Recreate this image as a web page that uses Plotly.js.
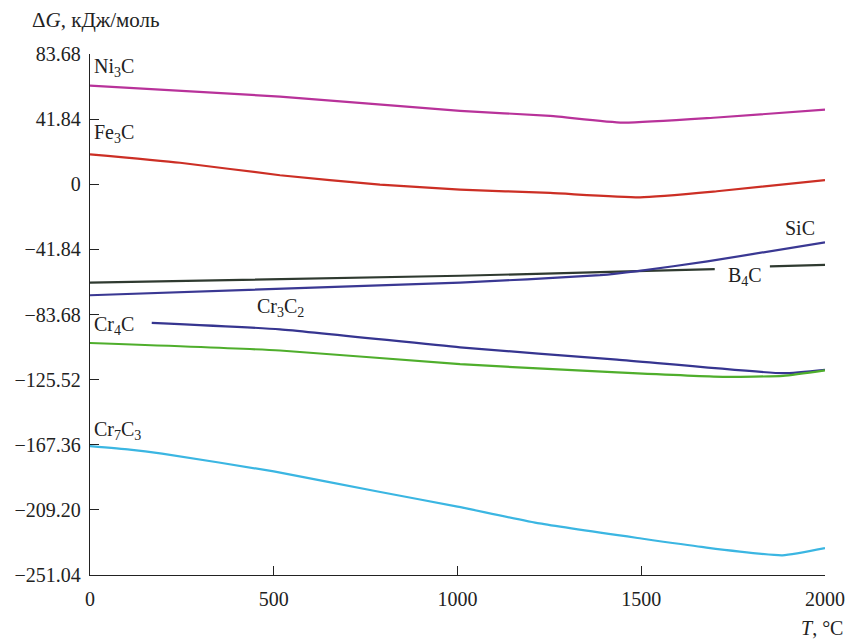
<!DOCTYPE html>
<html>
<head>
<meta charset="utf-8">
<script src="https://cdn.plot.ly/plotly-3.0.1.min.js"></script>
<style>html,body{margin:0;padding:0;background:#fff;}</style>
</head>
<body>
<div id="chart" style="width:848px;height:639px;"></div>
<script>
// Data (T in °C, ΔG in kJ/mol)
const ni3cT = [0, 517, 1007, 1252, 1450, 1706, 2000];
const ni3cG = [63.4, 56.3, 47.2, 43.9, 39.6, 42.9, 47.9];

const fe3cT = [0, 245, 517, 789, 1007, 1252, 1497, 1706, 2000];
const fe3cG = [19.2, 13.8, 5.8, -0.2, -3.4, -5.6, -8.4, -4.5, 2.6];

const sicT = [0, 1007, 1388, 1490, 1680, 2000];
const sicG = [-71.3, -63.2, -58.4, -55.8, -49.6, -37.3];

const b4cT = [0, 1007, 1488, 1700, 1760, 1850, 2000];
const b4cG = [-63.2, -58.8, -55.8, -54.5, null, -52.8, -51.8];

const cr3c2T = [168, 517, 1007, 1434, 1886, 2000];
const cr3c2G = [-89.0, -93.2, -104.8, -112.7, -121.4, -119.2];

const cr4cT = [0, 517, 1007, 1434, 1722, 1886, 2000];
const cr4cG = [-102.0, -106.8, -115.6, -120.9, -123.7, -123.1, -119.6];

const cr7c3T = [0, 108, 196, 500, 783, 1000, 1223, 1500, 1664, 1884, 2000];
const cr7c3G = [-168.3, -170.5, -173.1, -184.5, -197.4, -207.1, -217.9, -227.6, -233.0, -238.4, -233.8];

const yTickVals = [83.68, 41.84, 0, -41.84, -83.68, -125.52, -167.36, -209.20, -251.04];
const yTickText = ["83.68", "41.84", "0", "\u221241.84", "\u221283.68", "\u2212125.52", "\u2212167.36", "\u2212209.20", "\u2212251.04"];
const xTickVals = [0, 500, 1000, 1500, 2000];

const labels = [
  {text: "Ni<sub>3</sub>C", x: 5, y: 75.0, anchor: "left"},
  {text: "Fe<sub>3</sub>C", x: 5, y: 32.3, anchor: "left"},
  {text: "SiC", x: 1932, y: -27.8, anchor: "center"},
  {text: "B<sub>4</sub>C", x: 1782, y: -59.5, anchor: "center"},
  {text: "Cr<sub>3</sub>C<sub>2</sub>", x: 517, y: -79.0, anchor: "center"},
  {text: "Cr<sub>4</sub>C", x: 5, y: -90.5, anchor: "left"},
  {text: "Cr<sub>7</sub>C<sub>3</sub>", x: 5, y: -158.4, anchor: "left"}
];

const FONT = "Liberation Serif, Times New Roman, serif";

function line(x, y, color, name) {
  return {x: x, y: y, type: "scatter", mode: "lines", name: name,
          line: {color: color, width: 2.2, shape: "spline", smoothing: 0.5},
          connectgaps: false, hoverinfo: "x+y"};
}

const traces = [
  line(ni3cT, ni3cG, "#b8329a", "Ni3C"),
  line(fe3cT, fe3cG, "#cc2f25", "Fe3C"),
  line(b4cT, b4cG, "#2f3a30", "B4C"),
  line(sicT, sicG, "#3a3893", "SiC"),
  line(cr3c2T, cr3c2G, "#363590", "Cr3C2"),
  line(cr4cT, cr4cG, "#4fae2c", "Cr4C"),
  line(cr7c3T, cr7c3G, "#3bb6e2", "Cr7C3")
];

const annotations = labels.map(l => ({
  text: l.text, x: l.x, y: l.y, xref: "x", yref: "y",
  xanchor: l.anchor, yanchor: "middle", showarrow: false,
  font: {family: FONT, size: 20, color: "#222"}
}));
annotations.push({
  text: "\u0394<i>G</i>, кДж/моль", xref: "paper", yref: "paper",
  x: -0.082, y: 1.066, xanchor: "left", yanchor: "middle", showarrow: false,
  font: {family: FONT, size: 21, color: "#222"}
});
annotations.push({
  text: "<i>T</i>, °C", xref: "paper", yref: "paper",
  x: 1.027, y: -0.102, xanchor: "right", yanchor: "middle", showarrow: false,
  font: {family: FONT, size: 20, color: "#222"}
});

const layout = {
  width: 848, height: 639,
  margin: {l: 90, r: 23, t: 54, b: 64},
  paper_bgcolor: "#fff", plot_bgcolor: "#fff",
  showlegend: false,
  font: {family: FONT, size: 20, color: "#222"},
  xaxis: {
    range: [0, 2000], tickmode: "array", tickvals: xTickVals,
    ticks: "inside", ticklen: 9, tickwidth: 1, tickcolor: "#222",
    showline: true, linecolor: "#222", linewidth: 1.3,
    showgrid: false, zeroline: false, ticklabelstandoff: 6,
    tickfont: {family: FONT, size: 20, color: "#222"}
  },
  yaxis: {
    range: [-251.04, 83.68], tickmode: "array", tickvals: yTickVals, ticktext: yTickText,
    ticks: "inside", ticklen: 9, tickwidth: 1, tickcolor: "#222",
    showline: true, linecolor: "#222", linewidth: 1.3,
    showgrid: false, zeroline: false, ticklabelstandoff: 4,
    tickfont: {family: FONT, size: 20, color: "#222"}
  },
  annotations: annotations
};

Plotly.newPlot("chart", traces, layout, {staticPlot: true, displayModeBar: false});
</script>
</body>
</html>
